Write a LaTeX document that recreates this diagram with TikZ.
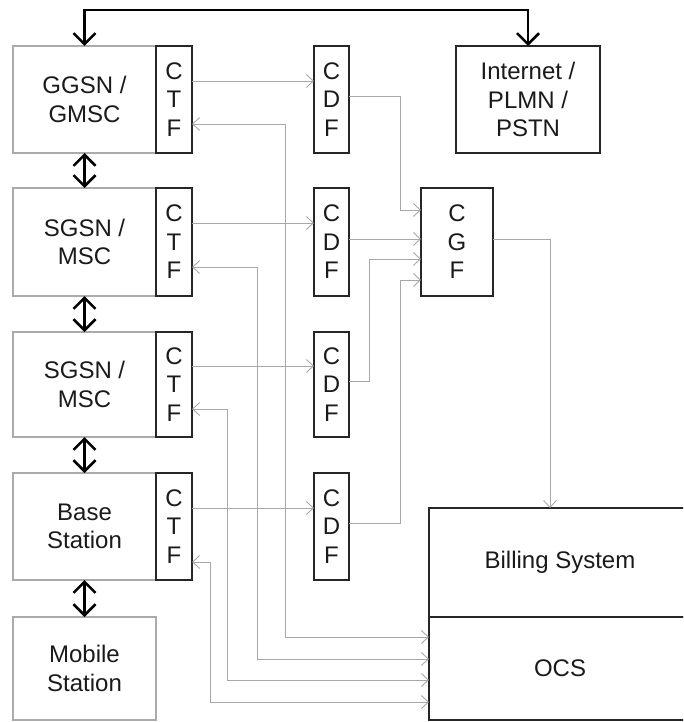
\documentclass[tikz,border=0pt]{standalone}
\usepackage{fontspec}
\setmainfont{Liberation Sans}
\usetikzlibrary{arrows.meta}
\definecolor{linegray}{HTML}{A8A8A8}
\definecolor{boxgray}{HTML}{ABABAB}
\definecolor{boxblack}{HTML}{262626}
\definecolor{txtcol}{HTML}{1A1A1A}
\begin{document}
\begin{tikzpicture}[x=1pt,y=-1pt,
  txt/.style={font=\fontsize{24}{28.5}\selectfont, text=txtcol, align=center, inner sep=0pt, outer sep=0pt},
  hostbox/.style={txt, draw=boxgray, line width=1.4pt, minimum width=143pt, anchor=north west},
  fnbox/.style={txt, draw=boxblack, line width=1.8pt, anchor=north west},
  graytip/.tip={Straight Barb[length=7pt,width=13pt]},
  conn/.style={draw=linegray, line width=0.9pt, -graytip},
  bconn/.style={draw=linegray, line width=0.9pt, graytip-graytip},
  bigtip/.tip={Straight Barb[length=11pt,width=22pt]},
  dblarrow/.style={draw=black, line width=2.5pt, bigtip-bigtip}
]
\useasboundingbox (0,0) rectangle (683,722);
\clip (0,0) rectangle (683,722);

% host boxes
\node[hostbox, minimum height=107pt] (host1) at (13,46) {GGSN /\\GMSC};
\node[hostbox, minimum height=108pt] (host2) at (13,188) {SGSN /\\MSC};
\node[hostbox, minimum height=105pt] (host3) at (13,332) {SGSN /\\MSC};
\node[hostbox, minimum height=107pt] (host4) at (13,473) {Base\\Station};
\node[hostbox, minimum height=103pt] (host5) at (13,617) {Mobile\\Station};

% CTF boxes
\node[fnbox, minimum width=36pt, minimum height=107pt] (ctf1) at (156,46) {C\\T\\F};
\node[fnbox, minimum width=36pt, minimum height=108pt] (ctf2) at (156,188) {C\\T\\F};
\node[fnbox, minimum width=36pt, minimum height=105pt] (ctf3) at (156,332) {C\\T\\F};
\node[fnbox, minimum width=36pt, minimum height=107pt] (ctf4) at (156,473) {C\\T\\F};

% CDF boxes
\node[fnbox, minimum width=35pt, minimum height=107pt] (cdf1) at (314,46) {C\\D\\F};
\node[fnbox, minimum width=35pt, minimum height=108pt] (cdf2) at (314,188) {C\\D\\F};
\node[fnbox, minimum width=35pt, minimum height=105pt] (cdf3) at (314,332) {C\\D\\F};
\node[fnbox, minimum width=35pt, minimum height=107pt] (cdf4) at (314,473) {C\\D\\F};

% CGF
\node[fnbox, minimum width=72pt, minimum height=108pt] (cgf) at (421,188) {C\\G\\F};

% Internet
\node[fnbox, minimum width=144pt, minimum height=107pt] (inet) at (456,46) {Internet /\\PLMN /\\PSTN};

% Billing / OCS
\node[fnbox, minimum width=262pt, minimum height=109pt] (bill) at (429,508) {Billing System};
\node[fnbox, minimum width=262pt, minimum height=103pt] (ocs) at (429,617) {OCS};

% thick arrows
\draw[dblarrow] (host1.north) -- (host1.north |- 0,10) -- (inet.north |- 0,10) -- (inet.north);
\draw[dblarrow] (host1.south) -- (host2.north);
\draw[dblarrow] (host2.south) -- (host3.north);
\draw[dblarrow] (host3.south) -- (host4.north);
\draw[dblarrow] (host4.south) -- (host5.north);

% CTF -> CDF
\draw[conn] (ctf1.east |- 0,81) -- (cdf1.west |- 0,81);
\draw[conn] (ctf2.east |- 0,223) -- (cdf2.west |- 0,223);
\draw[conn] (ctf3.east |- 0,366) -- (cdf3.west |- 0,366);
\draw[conn] (ctf4.east |- 0,508) -- (cdf4.west |- 0,508);

% CDF -> CGF
\draw[conn] (cdf1.east |- 0,96) -| (400,210) -- (cgf.west |- 0,210);
\draw[conn] (cdf2.east |- 0,239) -- (cgf.west |- 0,239);
\draw[conn] (cdf3.east |- 0,381) -| (369,259) -- (cgf.west |- 0,259);
\draw[conn] (cdf4.east |- 0,523) -| (400,280) -- (cgf.west |- 0,280);

% CGF -> Billing
\draw[conn] (cgf.east |- 0,239) -| (bill.north -| 550,0);

% CTF <-> OCS
\draw[bconn] (ctf1.east |- 0,124) -| (285,637) -- (ocs.west |- 0,637);
\draw[bconn] (ctf2.east |- 0,267) -| (257,659) -- (ocs.west |- 0,659);
\draw[bconn] (ctf3.east |- 0,409) -| (227,680) -- (ocs.west |- 0,680);
\draw[bconn] (ctf4.east |- 0,562) -| (210,702) -- (ocs.west |- 0,702);
\end{tikzpicture}
\end{document}
